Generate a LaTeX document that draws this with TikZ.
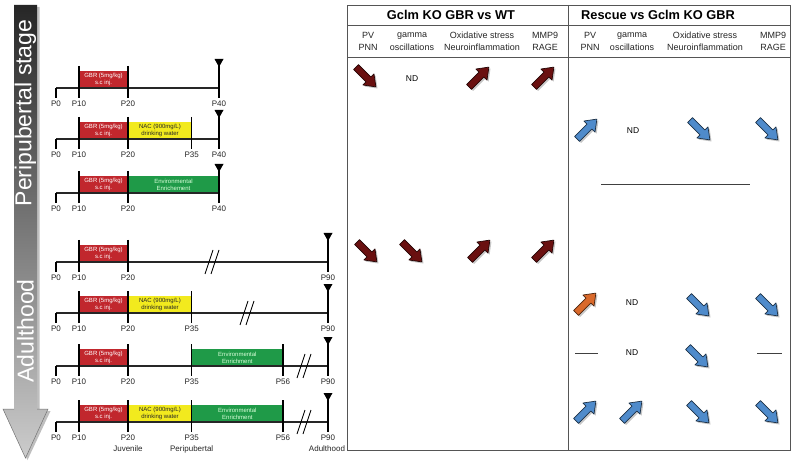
\documentclass[tikz,border=0pt]{standalone}
\usepackage{fontspec}
\setmainfont{Liberation Sans}
\definecolor{gbrred}{HTML}{C1272D}
\definecolor{nacyel}{HTML}{F2EA1E}
\definecolor{envgreen}{HTML}{1F9A48}
\definecolor{darkred}{HTML}{6A1010}
\definecolor{upblue}{HTML}{4F8BCB}
\definecolor{uporange}{HTML}{D9692B}
\definecolor{gridgray}{HTML}{555555}
\tikzset{
  tickline/.style={line width=1.4pt,black},
  baseline/.style={line width=1.1pt,black!85},
  plab/.style={font=\fontsize{8}{9.5}\selectfont,inner sep=0pt,text=black!85},
  boxtxt/.style={font=\fontsize{6}{7}\selectfont,align=center,inner sep=0pt},
  hdr/.style={font=\fontsize{12.8}{14}\selectfont\bfseries,inner sep=0pt},
  sub/.style={font=\fontsize{9}{12.5}\selectfont,align=center,inner sep=0pt,text=black!85},
  nd/.style={font=\fontsize{8.5}{10}\selectfont,inner sep=0pt},
  gridline/.style={gridgray,line width=0.9pt},
  bartxt/.style={font=\fontsize{23}{26}\selectfont,text=white,rotate=90,inner sep=0pt}
}
\newcommand{\gbrbox}[1]{%
  \fill[gbrred] (79,#1-17) rectangle (128,#1);
  \node[boxtxt,text=white] (gbr#1) at (103.5,#1-8.5) {GBR (5mg/kg)\\s.c inj.};}
\newcommand{\nacbox}[1]{%
  \fill[nacyel] (128,#1-17) rectangle (191.7,#1);
  \node[boxtxt,text=black!85] (nac#1) at (160,#1-8.5) {NAC (900mg/L)\\drinking water};}
\newcommand{\envbox}[4]{%
  \fill[envgreen] (#1,#3-17) rectangle (#2,#3);
  \node[boxtxt,text=white!85!green] (env#3) at ({(#1+#2)/2},#3-8.5) {Environmental\\#4};}
\newcommand{\tickmk}[3]{%
  \draw[tickline] (#1,#2-22) -- (#1,#2+10);
  \node[plab] (l#3r#2) at (#1,#2+16) {#3};}
\newcommand{\zeromk}[1]{%
  \draw[tickline] (56,#1) -- (56,#1+10);
  \node[plab] (lP0r#1) at (56,#1+16) {P0};}
\newcommand{\finmk}[3]{%
  \draw[tickline] (#1,#2-24) -- (#1,#2+10);
  \fill (#1-4.5,#2-29) -- (#1+4.5,#2-29) -- (#1,#2-21) -- cycle;
  \node[plab] (l#3r#2) at (#1,#2+16) {#3};}
\newcommand{\brkmk}[2]{%
  \draw[line width=0.9pt] (#1-8,#2+12) -- (#1,#2-12);
  \draw[line width=0.9pt] (#1-2,#2+12) -- (#1+6,#2-12);}
\newcommand{\arrowshape}[1]{\path[#1] (-14,-3.5) -- (3.5,-3.5) -- (3.5,-7.8) -- (14,0) -- (3.5,7.8) -- (3.5,3.5) -- (-14,3.5) -- cycle;}
\newcommand{\blkarr}[4]{%
  \arrowshape{fill=black,opacity=.22,shift={(#1+1.6,#2+1.6)},rotate=#3}
  \arrowshape{fill=#4,draw=#4!35!black,line width=.7pt,line join=round,shift={(#1,#2)},rotate=#3}}
\begin{document}
\begin{tikzpicture}[x=1pt,y=-1pt]
\useasboundingbox (0,0) rectangle (800,462);
\fill[white] (0,0) rectangle (800,462);
% left gradient arrow
\fill[black,opacity=.25] (16.5,7) -- (39.5,7) -- (39.5,411) -- (50.5,411) -- (27.5,460) -- (4.5,411) -- (16.5,411) -- cycle;
\shade[top color=black!85, bottom color=black!20] (14,5) -- (37,5) -- (37,409) -- (48,409) -- (25.5,458) -- (3,409) -- (14,409) -- cycle;
\draw[black!55,line width=.5pt] (14,409) -- (3,409) -- (25.5,458) -- (48,409) -- (37,409);
\node[bartxt] (peri) at (25.5,113) {Peripubertal stage};
\node[bartxt] (adult) at (25.5,331) {Adulthood};
% row 1
\gbrbox{88}
\draw[baseline] (56,88) -- (219,88);
\zeromk{88} \tickmk{79}{88}{P10} \tickmk{128}{88}{P20} \finmk{219}{88}{P40}
% row 2
\gbrbox{139} \nacbox{139}
\draw[baseline] (56,139) -- (219,139);
\zeromk{139} \tickmk{79}{139}{P10} \tickmk{128}{139}{P20} \tickmk{191.7}{139}{P35} \finmk{219}{139}{P40}
% row 3
\gbrbox{193} \envbox{128}{219}{193}{Enrichement}
\draw[baseline] (56,193) -- (219,193);
\zeromk{193} \tickmk{79}{193}{P10} \tickmk{128}{193}{P20} \finmk{219}{193}{P40}
% row 4
\gbrbox{262}
\draw[baseline] (56,262) -- (328,262);
\brkmk{213}{262}
\zeromk{262} \tickmk{79}{262}{P10} \tickmk{128}{262}{P20} \finmk{328}{262}{P90}
% row 5
\gbrbox{313} \nacbox{313}
\draw[baseline] (56,313) -- (328,313);
\brkmk{248}{313}
\zeromk{313} \tickmk{79}{313}{P10} \tickmk{128}{313}{P20} \tickmk{191.7}{313}{P35} \finmk{328}{313}{P90}
% row 6
\gbrbox{366} \envbox{191.7}{283}{366}{Enrichment}
\draw[baseline] (56,366) -- (328,366);
\brkmk{305}{366}
\zeromk{366} \tickmk{79}{366}{P10} \tickmk{128}{366}{P20} \tickmk{191.7}{366}{P35} \tickmk{283}{366}{P56} \finmk{328}{366}{P90}
% row 7
\gbrbox{422} \nacbox{422} \envbox{191.7}{283}{422}{Enrichment}
\draw[baseline] (56,422) -- (328,422);
\brkmk{305}{422}
\zeromk{422} \tickmk{79}{422}{P10} \tickmk{128}{422}{P20} \tickmk{191.7}{422}{P35} \tickmk{283}{422}{P56} \finmk{328}{422}{P90}
\node[plab] (juv) at (128,449) {Juvenile};
\node[plab] (perilab) at (191.7,449) {Peripubertal};
\node[plab] (adlab) at (327,449) {Adulthood};
% table
\draw[gridline] (347,5) rectangle (790,450);
\draw[gridline] (568,5) -- (568,450);
\draw[gridline] (347,25) -- (790,25);
\draw[gridline] (347,57) -- (790,57);
\node[hdr] (h1) at (451,15) {Gclm KO GBR vs WT};
\node[hdr] (h2) at (658,15) {Rescue vs Gclm KO GBR};
\node[sub] (s1) at (368,41.5) {PV\\PNN};
\node[sub] (s2) at (412,41.5) {gamma\\oscillations};
\node[sub] (s3) at (482,41.5) {Oxidative stress\\Neuroinflammation};
\node[sub] (s4) at (545,41.5) {MMP9\\RAGE};
\node[sub] (s5) at (590,41.5) {PV\\PNN};
\node[sub] (s6) at (632,41.5) {gamma\\oscillations};
\node[sub] (s7) at (705,41.5) {Oxidative stress\\Neuroinflammation};
\node[sub] (s8) at (773,41.5) {MMP9\\RAGE};
% left panel results
\blkarr{366}{77}{-45}{darkred}
\node[nd] (nd1) at (412,79) {ND};
\blkarr{479}{77}{45}{darkred}
\blkarr{544}{77}{45}{darkred}
\blkarr{367}{252}{-45}{darkred}
\blkarr{412}{252}{-45}{darkred}
\blkarr{480}{250}{45}{darkred}
\blkarr{544}{250}{45}{darkred}
% right panel results
\blkarr{587}{129}{45}{upblue}
\node[nd] (nd2) at (633,131) {ND};
\blkarr{700}{130}{-45}{upblue}
\blkarr{768}{130}{-45}{upblue}
\coordinate (ra) at (601,184); \coordinate (rb) at (750,184);
\draw[black!75,line width=.8pt] (ra) -- (rb);
\blkarr{586}{303}{45}{uporange}
\node[nd] (nd3) at (632,303) {ND};
\blkarr{699}{306}{-45}{upblue}
\blkarr{768}{306}{-45}{upblue}
\coordinate (da) at (575,353); \coordinate (db) at (598,353);
\draw[black!75,line width=.8pt] (da) -- (db);
\node[nd] (nd4) at (632,353) {ND};
\blkarr{698}{357}{-45}{upblue}
\coordinate (dc) at (757,353); \coordinate (dd) at (782,353);
\draw[black!75,line width=.8pt] (dc) -- (dd);
\blkarr{586}{411}{45}{upblue}
\blkarr{632}{411}{45}{upblue}
\blkarr{699}{413}{-45}{upblue}
\blkarr{768}{413}{-45}{upblue}
\end{tikzpicture}
\end{document}
